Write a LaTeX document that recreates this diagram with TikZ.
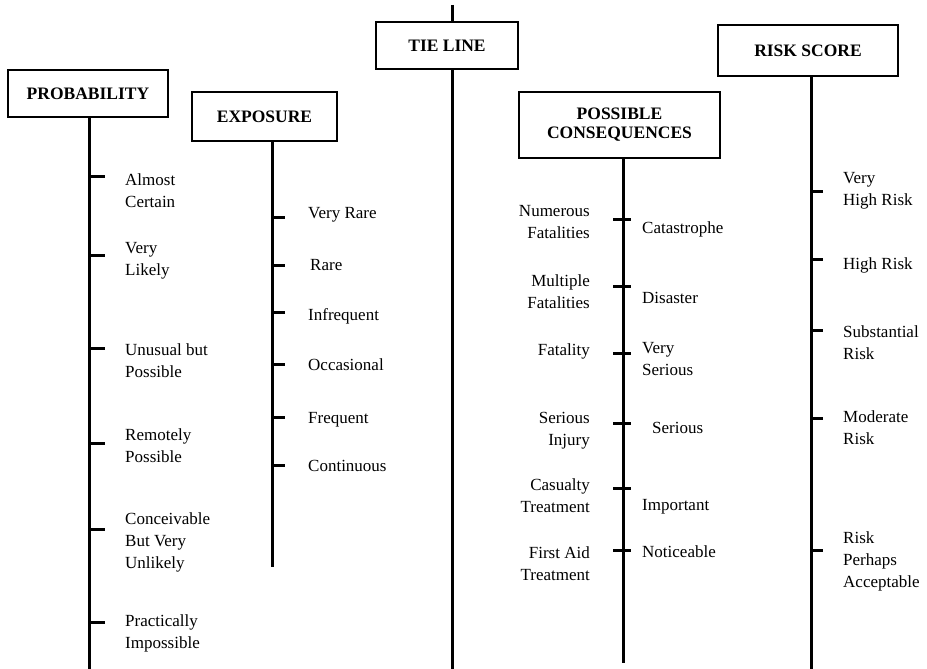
\documentclass[tikz,border=0pt]{standalone}
\usepackage{fontspec}
\setmainfont{Liberation Serif}
\begin{document}
\begin{tikzpicture}[x=1pt,y=-1pt,
  hdr/.style={draw, line width=2.8pt, font=\fontsize{17.5}{19}\selectfont\bfseries, align=center, inner sep=0pt},
  spine/.style={line width=3pt},
  tickmark/.style={line width=3pt},
  lab/.style={font=\fontsize{17}{22}\selectfont, inner sep=0pt, align=left, anchor=base west},
  labr/.style={font=\fontsize{17}{22}\selectfont, inner sep=0pt, align=right, anchor=base east}]
\useasboundingbox (0,0) rectangle (927,669);
\fill[white] (0,0) rectangle (927,669);

% headers
\node[hdr, minimum width=160pt, minimum height=47pt] (prob) at (88,93.5) {PROBABILITY};
\node[hdr, minimum width=145pt, minimum height=49pt] (expo) at (264.5,116.5) {EXPOSURE};
\node[hdr, minimum width=142pt, minimum height=47pt] (tie) at (447,45.5) {TIE LINE};
\node[hdr, minimum width=201pt, minimum height=66pt] (cons) at (619.5,125) {POSSIBLE\\CONSEQUENCES};
\node[hdr, minimum width=180pt, minimum height=51pt] (risk) at (808,50.5) {RISK SCORE};

% spines
\coordinate (probbot) at (89,669);
\coordinate (expobot) at (272,567);
\coordinate (tietop) at (452,5);
\coordinate (tiebot) at (452,669);
\coordinate (consbot) at (623,663);
\coordinate (riskbot) at (811,669);
\draw[spine] (probbot |- prob.south) -- (probbot);
\draw[spine] (expobot |- expo.south) -- (expobot);
\draw[spine] (tietop) -- (tietop |- tie.north);
\draw[spine] (tiebot |- tie.south) -- (tiebot);
\draw[spine] (consbot |- cons.south) -- (consbot);
\draw[spine] (riskbot |- risk.south) -- (riskbot);

% probability ticks and labels (anchor = baseline of last line)
\foreach \y in {176,255,348,443,529,622}
  \draw[tickmark] (probbot |- 0,\y) -- ++(16,0);
\node[lab] (p1) at (125,207) {Almost\\Certain};
\node[lab] (p2) at (125,275) {Very\\Likely};
\node[lab] (p3) at (125,377) {Unusual but\\Possible};
\node[lab] (p4) at (125,462) {Remotely\\Possible};
\node[lab] (p5) at (125,568) {Conceivable\\But Very\\Unlikely};
\node[lab] (p6) at (125,648) {Practically\\Impossible};

% exposure ticks and labels
\foreach \y in {217,265,312,364,417,465}
  \draw[tickmark] (expobot |- 0,\y) -- ++(13,0);
\node[lab] (e1) at (308,218) {Very Rare};
\node[lab] (e2) at (310,270) {Rare};
\node[lab] (e3) at (308,320) {Infrequent};
\node[lab] (e4) at (308,370) {Occasional};
\node[lab] (e5) at (308,423) {Frequent};
\node[lab] (e6) at (308,471) {Continuous};

% consequences ticks and labels
\foreach \y in {219,286,353,423,488,550}
  \draw[tickmark] ([xshift=-10pt]consbot |- 0,\y) -- ++(18,0);
\node[labr] (c1) at (590,238) {Numerous\\Fatalities};
\node[labr] (c2) at (590,308) {Multiple\\Fatalities};
\node[labr] (c3) at (590,355) {Fatality};
\node[labr] (c4) at (590,445) {Serious\\Injury};
\node[labr] (c5) at (590,512) {Casualty\\Treatment};
\node[labr] (c6) at (590,580) {First Aid\\Treatment};
\node[lab] (d1) at (642,233) {Catastrophe};
\node[lab] (d2) at (642,303) {Disaster};
\node[lab] (d3) at (642,375) {Very\\Serious};
\node[lab] (d4) at (652,433) {Serious};
\node[lab] (d5) at (642,510) {Important};
\node[lab] (d6) at (642,557) {Noticeable};

% risk ticks and labels
\foreach \y in {191,259,330,418,550}
  \draw[tickmark] (riskbot |- 0,\y) -- ++(12,0);
\node[lab] (r1) at (843,205) {Very\\High Risk};
\node[lab] (r2) at (843,269) {High Risk};
\node[lab] (r3) at (843,359) {Substantial\\Risk};
\node[lab] (r4) at (843,444) {Moderate\\Risk};
\node[lab] (r5) at (843,587) {Risk\\Perhaps\\Acceptable};
\end{tikzpicture}
\end{document}
